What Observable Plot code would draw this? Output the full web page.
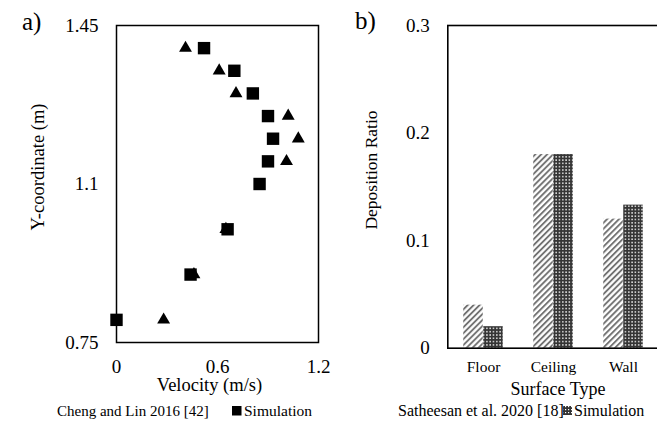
<!DOCTYPE html>
<html>
<head>
<meta charset="utf-8">
<script src="https://cdn.jsdelivr.net/npm/d3@7"></script>
<script src="https://cdn.jsdelivr.net/npm/@observablehq/plot@0.6"></script>
<style>
  html, body { margin: 0; padding: 0; background: #fff; overflow: hidden; }
  #wrap { position: relative; width: 657px; height: 426px; overflow: hidden; font-family: "Liberation Serif", "Times New Roman", serif; }
  #wrap > svg { position: absolute; top: 0; }
  #overlay { position: absolute; left: 0; top: 0; pointer-events: none; }
</style>
</head>
<body>
<div id="wrap"></div>
<script>
// ---- Panel a) velocity profile ----
const expY   = [1.40, 1.35, 1.30, 1.25, 1.20, 1.15, 1.00, 0.90, 0.80];
const expVel = [0.41, 0.61, 0.71, 1.02, 1.08, 1.01, 0.65, 0.46, 0.28];
const simY   = [1.40, 1.35, 1.30, 1.25, 1.20, 1.15, 1.10, 1.00, 0.90, 0.80];
const simVel = [0.52, 0.70, 0.81, 0.90, 0.93, 0.90, 0.85, 0.66, 0.44, 0.00];
const velTicks = [0, 0.6, 1.2];
const yTicks = [0.75, 1.1, 1.45];

// ---- Panel b) deposition ratio ----
const surfaces = ["Floor", "Ceiling", "Wall"];
const expDep = [0.04, 0.18, 0.12];
const simDep = [0.02, 0.18, 0.133];
const depTicks = [0, 0.1, 0.2, 0.3];

const expPts = expY.map((y, i) => ({y, v: expVel[i]}));
const simPts = simY.map((y, i) => ({y, v: simVel[i]}));
const expBars = surfaces.map((s, i) => ({s, d: expDep[i]}));
const simBars = surfaces.map((s, i) => ({s, d: simDep[i]}));

const serif = "'Liberation Serif', 'Times New Roman', serif";
const font = {fontFamily: serif, fontSize: "19px", color: "black", background: "transparent", overflow: "visible"};
const fmt = d => String(d);

const plotA = Plot.plot({
  width: 330, height: 426,
  marginLeft: 116, marginRight: 12, marginTop: 25, marginBottom: 84,
  style: font,
  x: {domain: [0, 1.2]},
  y: {domain: [0.75, 1.45]},
  marks: [
    Plot.axisX({ticks: velTicks, tickFormat: fmt, tickSize: 0, tickPadding: 17, label: null, fontSize: 19}),
    Plot.axisY({ticks: yTicks, tickFormat: fmt, tickSize: 0, tickPadding: 18, label: null, fontSize: 19}),
    Plot.dot(expPts, {x: "v", y: "y", symbol: "triangle", r: 4.8, fill: "black", stroke: "none"}),
    Plot.dot(simPts, {x: "v", y: "y", symbol: "square", r: 7, fill: "black", stroke: "none"}),
    Plot.frame({stroke: "black", strokeWidth: 1.5})
  ]
});
plotA.style.left = "0px";

const plotB = Plot.plot({
  width: 340, height: 426,
  marginLeft: 117.3, marginRight: 11, marginTop: 25, marginBottom: 78.3,
  style: font,
  x: {domain: surfaces, padding: 0},
  y: {domain: [0, 0.3]},
  marks: [
    Plot.axisX({tickSize: 0, tickPadding: 13, label: null, fontSize: 15.5}),
    Plot.axisY({ticks: depTicks, tickFormat: fmt, tickSize: 0, tickPadding: 18, label: null, fontSize: 19}),
    Plot.barY(expBars, {x: "s", y: "d", dx: -10, insetLeft: 25.25, insetRight: 25.25, fill: "url(#hatch)"}),
    Plot.barY(simBars, {x: "s", y: "d", dx: 10, insetLeft: 25.25, insetRight: 25.25, fill: "url(#dots)"}),
    Plot.frame({stroke: "black", strokeWidth: 1.6})
  ]
});
plotB.style.left = "330px";

function addDefs(svg) {
  const defs = d3.select(svg).insert("defs", ":first-child");
  const h = defs.append("pattern").attr("id", "hatch").attr("patternUnits", "userSpaceOnUse")
    .attr("width", 4.2).attr("height", 4.2).attr("patternTransform", "rotate(45)");
  h.append("rect").attr("width", 4.2).attr("height", 4.2).attr("fill", "white");
  h.append("line").attr("x1", 1).attr("y1", 0).attr("x2", 1).attr("y2", 4.2)
    .attr("stroke", "#6a6a6a").attr("stroke-width", 1.8);
  const d = defs.append("pattern").attr("id", "dots").attr("patternUnits", "userSpaceOnUse")
    .attr("width", 3.3).attr("height", 3.3);
  d.append("rect").attr("width", 3.3).attr("height", 3.3).attr("fill", "#353535");
  d.append("rect").attr("x", 1).attr("y", 1).attr("width", 1.4).attr("height", 1.4).attr("fill", "white");
}
addDefs(plotB);

const wrap = document.getElementById("wrap");
wrap.appendChild(plotA);
wrap.appendChild(plotB);

// ---- overlay text: panel letters, axis titles, legends ----
const ov = d3.select(wrap).append("svg").attr("id", "overlay")
  .attr("width", 657).attr("height", 426)
  .attr("font-family", serif).style("fill", "black");

ov.append("text").attr("x", 22).attr("y", 30).attr("font-size", 25).text("a)");
ov.append("text").attr("x", 355).attr("y", 29).attr("font-size", 25).text("b)");

ov.append("text").attr("transform", "translate(38,167) rotate(-90)").attr("text-anchor", "middle")
  .attr("dy", "0.35em").attr("font-size", 18.5).text("Y-coordinate (m)");
ov.append("text").attr("x", 209.5).attr("y", 391).attr("text-anchor", "middle").attr("font-size", 18.5).text("Velocity (m/s)");

ov.append("text").attr("transform", "translate(371,170) rotate(-90)").attr("text-anchor", "middle")
  .attr("dy", "0.35em").attr("font-size", 17.5).text("Deposition Ratio");
ov.append("text").attr("x", 558).attr("y", 395).attr("text-anchor", "middle").attr("font-size", 18).text("Surface Type");

// legend a
ov.append("text").attr("x", 57).attr("y", 416).attr("font-size", 15).text("Cheng and Lin 2016 [42]");
ov.append("rect").attr("x", 232).attr("y", 406).attr("width", 9.5).attr("height", 9.5).attr("fill", "black");
ov.append("text").attr("x", 244).attr("y", 416).attr("font-size", 15.5).text("Simulation");

// legend b
ov.append("text").attr("x", 398).attr("y", 416).attr("font-size", 16).text("Satheesan et al. 2020 [18]");
const defs2 = ov.append("defs");
const d2 = defs2.append("pattern").attr("id", "dots2").attr("patternUnits", "userSpaceOnUse").attr("width", 3).attr("height", 3);
d2.append("rect").attr("width", 3).attr("height", 3).attr("fill", "#333");
d2.append("rect").attr("x", 1).attr("y", 1).attr("width", 1.2).attr("height", 1.2).attr("fill", "white");
ov.append("rect").attr("x", 563).attr("y", 406).attr("width", 9).attr("height", 9).attr("fill", "url(#dots2)");
ov.append("text").attr("x", 574).attr("y", 416).attr("font-size", 16).text("Simulation");
</script>
</body>
</html>
